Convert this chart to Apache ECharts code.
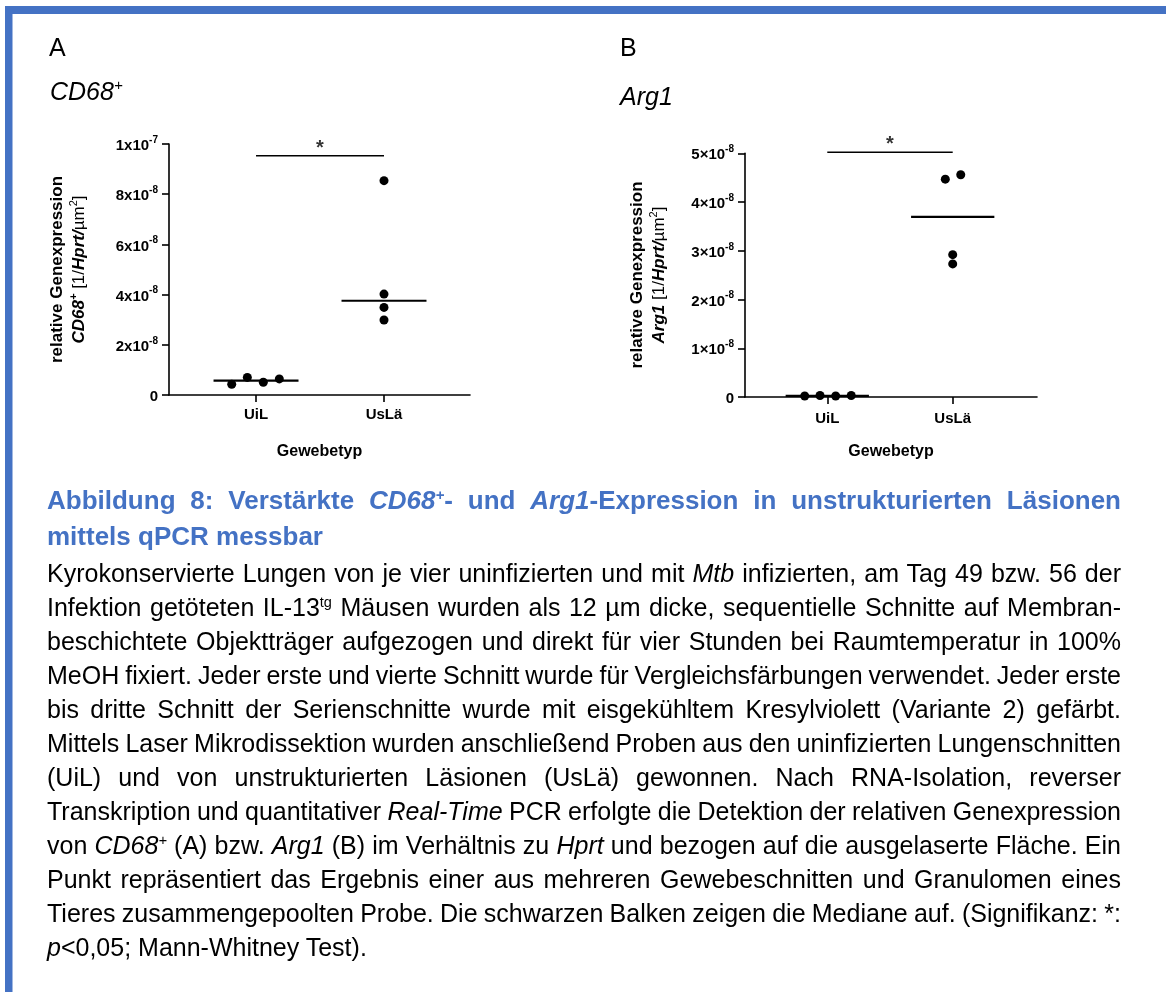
<!DOCTYPE html>
<html>
<head>
<meta charset="utf-8">
<script src="https://cdn.jsdelivr.net/npm/echarts@6/dist/echarts.min.js"></script>
<style>
  html, body { margin: 0; padding: 0; background: #fff; }
  #page { position: relative; width: 1166px; height: 992px; overflow: hidden; }
  #chart { position: absolute; left: 0; top: 0; width: 1166px; height: 992px; }
  .line {
    position: absolute; left: 47px; width: 1074px; height: 34px; line-height: 34px;
    font-family: 'Liberation Sans', Arial, Helvetica, sans-serif; font-size: 25px; color: #000;
    white-space: nowrap; z-index: 2;
  }
  .head { font-weight: bold; font-size: 26px; color: #4472C4; }
  .line sup { font-size: 0.58em; vertical-align: 0.62em; line-height: 0; }
</style>
</head>
<body>
<div id="page">
  <div id="chart"></div>
  <div class="line head just" style="top:483px">Abbildung 8: Verstärkte <i>CD68<sup>+</sup></i>- und <i>Arg1</i>-Expression in unstrukturierten Läsionen</div>
  <div class="line head" style="top:519px">mittels qPCR messbar</div>
  <div class="line just" style="top:556px">Kyrokonservierte Lungen von je vier uninfizierten und mit <i>Mtb</i> infizierten, am Tag 49 bzw. 56 der</div>
  <div class="line just" style="top:590px">Infektion getöteten IL-13<sup>tg</sup> Mäusen wurden als 12 µm dicke, sequentielle Schnitte auf Membran-</div>
  <div class="line just" style="top:624px">beschichtete Objektträger aufgezogen und direkt für vier Stunden bei Raumtemperatur in 100%</div>
  <div class="line just" style="top:658px">MeOH fixiert. Jeder erste und vierte Schnitt wurde für Vergleichsfärbungen verwendet. Jeder erste</div>
  <div class="line just" style="top:692px">bis dritte Schnitt der Serienschnitte wurde mit eisgekühltem Kresylviolett (Variante 2) gefärbt.</div>
  <div class="line just" style="top:726px">Mittels Laser Mikrodissektion wurden anschließend Proben aus den uninfizierten Lungenschnitten</div>
  <div class="line just" style="top:760px">(UiL) und von unstrukturierten Läsionen (UsLä) gewonnen. Nach RNA-Isolation, reverser</div>
  <div class="line just" style="top:794px">Transkription und quantitativer <i>Real-Time</i> PCR erfolgte die Detektion der relativen Genexpression</div>
  <div class="line just" style="top:828px">von <i>CD68<sup>+</sup></i> (A) bzw. <i>Arg1</i> (B) im Verhältnis zu <i>Hprt</i> und bezogen auf die ausgelaserte Fläche. Ein</div>
  <div class="line just" style="top:862px">Punkt repräsentiert das Ergebnis einer aus mehreren Gewebeschnitten und Granulomen eines</div>
  <div class="line just" style="top:896px">Tieres zusammengepoolten Probe. Die schwarzen Balken zeigen die Mediane auf. (Signifikanz: *:</div>
  <div class="line" style="top:930px"><i>p</i>&lt;0,05; Mann-Whitney Test).</div>
</div>
<script>
// ---- data -------------------------------------------------------------
const categories = ['UiL', 'UsLä'];

// A: CD68+ relative expression per animal
const cd68UiL = [4.3e-9, 7.0e-9, 5.1e-9, 6.4e-9];
const cd68UsLa = [8.54e-8, 4.02e-8, 3.49e-8, 2.99e-8];
// B: Arg1 relative expression per animal
const arg1UiL = [2e-10, 3e-10, 2e-10, 3e-10];
const arg1UsLa = [4.47e-8, 4.56e-8, 2.92e-8, 2.73e-8];

// horizontal spread of the dots inside a group (in category units)
const cd68UiLSpread = [-0.19, -0.068, 0.057, 0.182];
const cd68UsLaSpread = [0, 0, 0, 0];
const arg1UiLSpread = [-0.18, -0.058, 0.067, 0.191];
const arg1UsLaSpread = [-0.059, 0.064, 0, 0];

// height of the significance brackets
const cd68Bracket = 9.53e-8;
const arg1Bracket = 5.02e-8;

// y tick labels (mantissa^exponent)
const cd68YLabels = ['0', '2x10^-8', '4x10^-8', '6x10^-8', '8x10^-8', '1x10^-7'];
const arg1YLabels = ['0', '1×10^-8', '2×10^-8', '3×10^-8', '4×10^-8', '5×10^-8'];

// ---- caption: justify each line to the text block width ------------------
const TEXT_WIDTH = 1074;
document.querySelectorAll('.line.just').forEach(el => {
  const span = document.createElement('span');
  while (el.firstChild) span.appendChild(el.firstChild);
  el.appendChild(span);
  const natural = span.getBoundingClientRect().width;
  const gaps = (el.textContent.match(/ /g) || []).length;
  if (gaps > 0) el.style.wordSpacing = ((TEXT_WIDTH - natural) / gaps) + 'px';
});

// ---- helpers ----------------------------------------------------------
const FONT = 'Liberation Sans, Arial, Helvetica, sans-serif';
const BLUE = '#4472C4';

function median(arr) {
  const s = arr.slice().sort((a, b) => a - b);
  const n = s.length;
  return n % 2 ? s[(n - 1) / 2] : (s[n / 2 - 1] + s[n / 2]) / 2;
}

function yLabelFormatter(labels, step) {
  return function (v) {
    const t = labels[Math.round(v / step)];
    if (t === undefined) return '';
    if (t.indexOf('^') < 0) return '{m|' + t + '}';
    const p = t.split('^');
    return '{m|' + p[0] + '}{e|' + p[1] + '}';
  };
}

const tickRich = {
  m: { fontFamily: FONT, fontSize: 15, fontWeight: 'bold', color: '#000', lineHeight: 18, padding: [4, 0, 0, 0] },
  e: { fontFamily: FONT, fontSize: 10, fontWeight: 'bold', color: '#000', lineHeight: 11, verticalAlign: 'top' }
};

const axisLineStyle = { color: '#000', width: 1.6 };

function xAxisFor(grid, min, max, nameGap, labelMargin) {
  return {
    type: 'value', gridIndex: grid, min: min, max: max,
    axisLine: { show: true, onZero: false, lineStyle: axisLineStyle },
    axisTick: { show: true, customValues: [1, 2], length: 7, lineStyle: axisLineStyle },
    axisLabel: {
      customValues: [1, 2], margin: labelMargin,
      formatter: v => categories[Math.round(v) - 1],
      fontFamily: FONT, fontSize: 15, fontWeight: 'bold', color: '#000'
    },
    splitLine: { show: false },
    name: 'Gewebetyp', nameLocation: 'middle', nameGap: nameGap,
    nameTextStyle: { fontFamily: FONT, fontSize: 16, fontWeight: 'bold', color: '#000' }
  };
}

function yAxisFor(grid, max, step, labels) {
  return {
    type: 'value', gridIndex: grid, min: 0, max: max, interval: step,
    axisLine: { show: true, onZero: false, lineStyle: axisLineStyle },
    axisTick: { show: true, length: 7, lineStyle: axisLineStyle },
    axisLabel: { margin: 11, formatter: yLabelFormatter(labels, step), rich: tickRich },
    splitLine: { show: false }
  };
}

function panelSeries(grid, groups, spreads, bracket) {
  const out = [];
  groups.forEach((vals, g) => {
    const pos = g + 1;
    out.push({
      type: 'scatter', xAxisIndex: grid, yAxisIndex: grid, clip: false,
      symbol: 'circle', symbolSize: 9, itemStyle: { color: '#000', opacity: 1 },
      data: vals.map((v, i) => [pos + spreads[g][i], v]), z: 3
    });
    const med = median(vals);
    out.push({
      type: 'line', xAxisIndex: grid, yAxisIndex: grid, clip: false,
      symbol: 'none', lineStyle: { color: '#000', width: 2.2 },
      data: [[pos - 0.332, med], [pos + 0.332, med]], z: 4
    });
  });
  out.push({
    type: 'line', xAxisIndex: grid, yAxisIndex: grid, clip: false,
    symbol: 'none', lineStyle: { color: '#000', width: 1.5 },
    data: [[1, bracket], [2, bracket]]
  });
  out.push({
    type: 'scatter', xAxisIndex: grid, yAxisIndex: grid, clip: false,
    symbol: 'circle', symbolSize: 1, itemStyle: { color: 'rgba(0,0,0,0)' },
    data: [[1.5, bracket]],
    label: {
      show: true, position: 'top', distance: 0, offset: [0, 3], formatter: '*',
      fontFamily: FONT, fontSize: 20, fontWeight: 'bold', color: '#000'
    }
  });
  return out;
}

const txt = (o) => Object.assign({ fontFamily: FONT, fill: '#000' }, o);

function yNameText(x, y, gene, geneSup) {
  let line2 = '{bi|' + gene + '}';
  if (geneSup) line2 += '{bis|' + geneSup + '}';
  line2 += '{r| [1/}{bi|Hprt/}{r|µm}{rs|2}{r|]}';
  return {
    type: 'text', x: x, y: y, rotation: Math.PI / 2,
    style: {
      text: '{b|relative Genexpression}\n' + line2,
      align: 'center', verticalAlign: 'middle',
      rich: {
        b: txt({ fontSize: 17, fontWeight: 'bold', lineHeight: 22 }),
        bi: txt({ fontSize: 17, fontWeight: 'bold', fontStyle: 'italic', lineHeight: 22 }),
        bis: txt({ fontSize: 11, fontWeight: 'bold', fontStyle: 'italic', lineHeight: 12, verticalAlign: 'top' }),
        r: txt({ fontSize: 17, lineHeight: 22 }),
        rs: txt({ fontSize: 11, lineHeight: 12, verticalAlign: 'top' })
      }
    }
  };
}

function panelTitle(x, y, gene, sup) {
  return {
    type: 'text', x: x, y: y,
    style: {
      text: '{i|' + gene + '}' + (sup ? '{s|' + sup + '}' : ''),
      align: 'left', verticalAlign: 'middle',
      rich: {
        i: txt({ fontSize: 25, fontStyle: 'italic', lineHeight: 30 }),
        s: txt({ fontSize: 15, fontStyle: 'italic', lineHeight: 14, verticalAlign: 'top' })
      }
    }
  };
}

const chart = echarts.init(document.getElementById('chart'), null, { renderer: 'canvas' });

chart.setOption({
  backgroundColor: '#fff',
  animation: false,
  grid: [
    { left: 169, top: 144, width: 301, height: 251 },
    { left: 745, top: 153.3, width: 292, height: 243.7 }
  ],
  xAxis: [
    xAxisFor(0, 0.32, 2.672, 49, 12),
    xAxisFor(1, 0.344, 2.672, 47, 14)
  ],
  yAxis: [
    yAxisFor(0, 1e-7, 2e-8, cd68YLabels),
    yAxisFor(1, 5e-8, 1e-8, arg1YLabels)
  ],
  series: [].concat(
    panelSeries(0, [cd68UiL, cd68UsLa], [cd68UiLSpread, cd68UsLaSpread], cd68Bracket),
    panelSeries(1, [arg1UiL, arg1UsLa], [arg1UiLSpread, arg1UsLaSpread], arg1Bracket)
  ),
  graphic: [
    { type: 'rect', shape: { x: 5, y: 6, width: 1161, height: 8 }, style: { fill: BLUE } },
    { type: 'rect', shape: { x: 5, y: 6, width: 7.5, height: 986 }, style: { fill: BLUE } },
    { type: 'text', x: 49, y: 49, style: txt({ text: 'A', fontSize: 25, align: 'left', verticalAlign: 'middle' }) },
    { type: 'text', x: 620, y: 49, style: txt({ text: 'B', fontSize: 25, align: 'left', verticalAlign: 'middle' }) },
    panelTitle(50, 93, 'CD68', '+'),
    panelTitle(620, 98, 'Arg1', ''),
    yNameText(68, 269.5, 'CD68', '+'),
    yNameText(648.5, 275, 'Arg1', '')
  ]
});
</script>
</body>
</html>
